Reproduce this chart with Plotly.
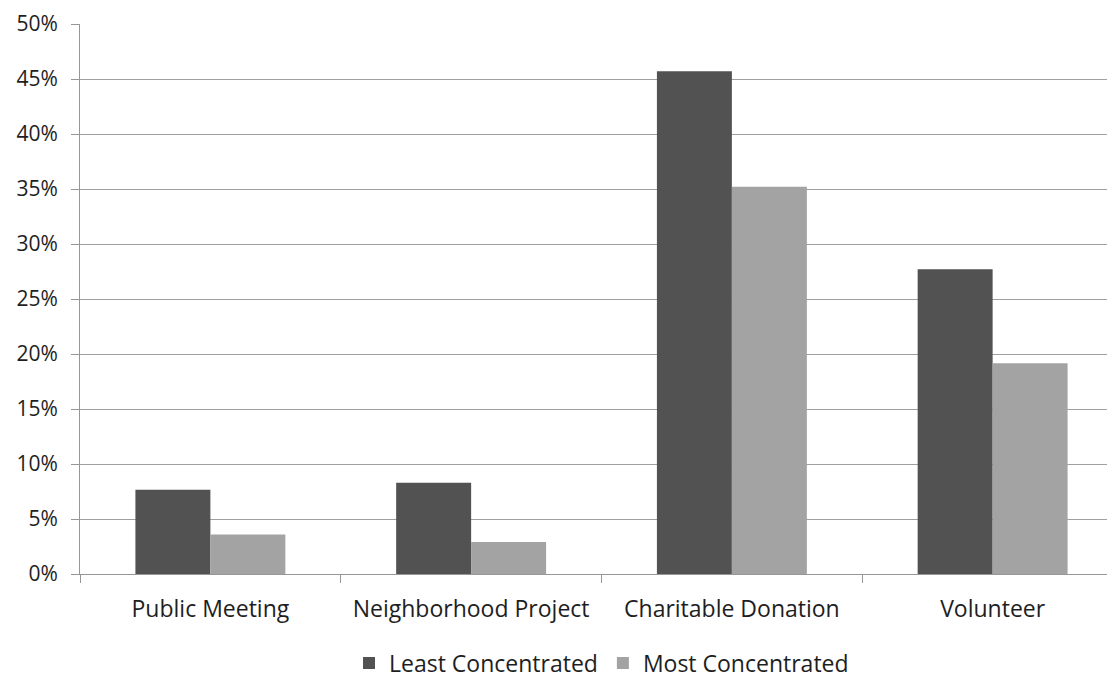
import plotly.graph_objects as go

categories = ["Public Meeting", "Neighborhood Project", "Charitable Donation", "Volunteer"]
least = [7.65, 8.3, 45.7, 27.7]
most = [3.6, 2.9, 35.2, 19.15]
y_ticks = [0, 5, 10, 15, 20, 25, 30, 35, 40, 45, 50]
y_labels = [f"{v}%" for v in y_ticks]

font_family = "Open Sans, sans-serif"
text_color = "#1e1e1e"
axis_color = "#979797"

fig = go.Figure()
fig.add_trace(go.Bar(x=categories, y=least, name="Least Concentrated",
                     marker=dict(color="#525252", line=dict(width=0))))
fig.add_trace(go.Bar(x=categories, y=most, name="Most Concentrated",
                     marker=dict(color="#a3a3a3", line=dict(width=0))))

fig.update_layout(
    width=1115, height=681, autosize=False,
    barmode="group", bargap=0.425, bargroupgap=0,
    plot_bgcolor="white", paper_bgcolor="white",
    margin=dict(l=72, r=0, t=16, b=115, autoexpand=False),
    font=dict(family=font_family, size=20, color=text_color),
    legend=dict(orientation="h", x=0.5, xanchor="center", y=-0.162, yanchor="middle",
                font=dict(size=23, color=text_color), itemwidth=30, traceorder="normal"),
    showlegend=True,
)
fig.update_xaxes(
    type="category", showline=True, linecolor=axis_color, linewidth=1,
    ticks="outside", tickson="boundaries", ticklen=8, tickcolor=axis_color,
    showgrid=False, tickfont=dict(size=23, color=text_color), automargin=False,
    ticklabelstandoff=14,
)
fig.update_yaxes(
    range=[0, 50], tickvals=y_ticks, ticktext=y_labels,
    showline=True, linecolor=axis_color, linewidth=1,
    ticks="outside", ticklen=8, tickcolor=axis_color,
    showgrid=True, gridcolor="#a0a0a0", gridwidth=1,
    zeroline=False, tickfont=dict(size=21, color=text_color), automargin=False,
    ticklabelstandoff=9, ticklabeloverflow="allow",
)

fig.write_html("out.html")
